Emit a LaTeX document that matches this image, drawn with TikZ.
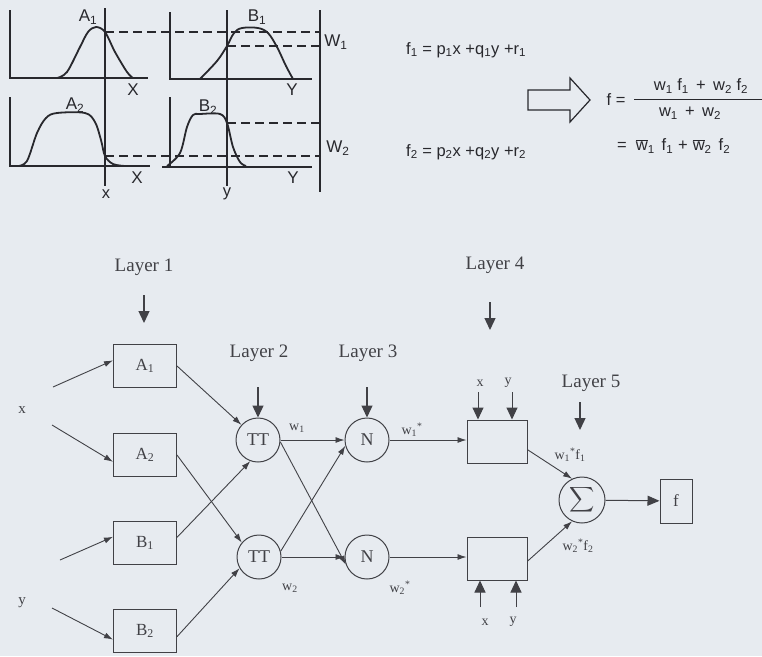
\documentclass[tikz,border=0pt]{standalone}
\usepackage{fontspec}
\usepackage{graphicx}
\setmainfont{Liberation Serif}
\newfontfamily\topfont{Liberation Sans}
\usetikzlibrary{arrows.meta}
\definecolor{bg}{RGB}{231,235,240}
\definecolor{ink}{RGB}{40,40,45}
\definecolor{net}{RGB}{65,65,70}
\tikzset{
 tlab/.style={font=\topfont\fontsize{17}{19}\selectfont, text=ink, inner sep=0},
 tform/.style={font=\topfont\fontsize{16.5}{18}\selectfont, text=ink, inner sep=0},
 curve/.style={line width=1.8pt, draw=ink, line join=round},
 axis/.style={line width=1.8pt, draw=ink},
 vline/.style={line width=1.1pt, draw=ink},
 dline/.style={line width=1.5pt, draw=ink, dash pattern=on 9pt off 5pt},
 nlab/.style={font=\fontsize{19}{21}\selectfont, text=net, inner sep=0},
 slab/.style={font=\fontsize{14}{16}\selectfont, text=net, inner sep=0},
 nbox/.style={draw=net, line width=1pt, minimum width=63pt, minimum height=43pt, inner sep=0, font=\fontsize{17}{19}\selectfont, text=net},
 ncirc/.style={draw=net, line width=1pt, circle, minimum size=44pt, inner sep=0, font=\fontsize{18}{20}\selectfont, text=net},
 arr/.style={draw=net, line width=0.9pt, -{Latex[length=9pt,width=6pt]}},
 larr/.style={draw=net, line width=1.3pt, -{Triangle[length=12pt,width=11pt]}},
}
\begin{document}
\begin{tikzpicture}[x=1pt,y=-1pt]
\fill[bg] (0,0) rectangle (762,656);
\useasboundingbox (0,0) rectangle (762,656);

% ---------- membership functions ----------
\draw[axis] (10,10) -- (10,78) -- (148,78);
\draw[curve] plot[smooth, tension=0.55] coordinates {(57,78) (67,72) (80,47) (88,32) (96,27) (105,32) (115,52) (127,72) (133,78)};
\draw[axis] (170,12) -- (170,79) -- (312,79);
\draw[curve] plot[smooth, tension=0.55] coordinates {(200,79) (217,61) (227,46) (234,33) (242,28) (258,28) (268,33) (277,47) (286,66) (293,79)};
\draw[axis] (10,97) -- (10,166) -- (150,166);
\draw[curve] plot[smooth, tension=0.55] coordinates {(18,166) (27,161) (37,133) (46,118) (57,113) (85,113) (95,122) (101,140) (105,156) (113,164) (125,166)};
\draw[axis] (170,97) -- (170,167);
\draw[axis] (162,167) -- (312,167);
\draw[curve] plot[smooth, tension=0.55] coordinates {(167,166) (180,153) (187,127) (193,115) (200,114) (220,114) (227,123) (233,147) (240,162) (246,166)};

\draw[vline] (105,8) -- (105,186);
\draw[vline] (227,10) -- (227,186);
\draw[vline] (320,10) -- (320,192);
\draw[dline] (105,32) -- (320,32);
\draw[dline] (227,46) -- (320,46);
\draw[dline] (227,123) -- (320,123);
\draw[dline] (105,156) -- (320,156);

\node[tlab] (tA1) at (88,17) {A\textsubscript{1}};
\node[tlab] (tB1) at (257,17) {B\textsubscript{1}};
\node[tlab] (tX1) at (133,90) {X};
\node[tlab] (tY1) at (292,90) {Y};
\node[tlab] (tA2) at (75,105) {A\textsubscript{2}};
\node[tlab] (tB2) at (208,107) {B\textsubscript{2}};
\node[tlab] (tX2) at (137,178) {X};
\node[tlab] (tY2) at (293,178) {Y};
\node[tform] (tx) at (106,194) {x};
\node[tform] (ty) at (227,194) {y};
\node[tlab] (tW1) at (336,42) {W\textsubscript{1}};
\node[tlab] (tW2) at (338,148) {W\textsubscript{2}};

\node[tform, anchor=west] (f1) at (406,50) {f\textsubscript{1} = p\textsubscript{1}x +q\textsubscript{1}y +r\textsubscript{1}};
\node[tform, anchor=west] (f2) at (406,152) {f\textsubscript{2} = p\textsubscript{2}x +q\textsubscript{2}y +r\textsubscript{2}};

\draw[line width=1.2pt, draw=ink, fill=bg] (528,90) -- (570,90) -- (570,78) -- (590,100) -- (570,122) -- (570,110) -- (528,110) -- cycle;

\node[tform] (feq) at (616,100) {f =};
\node[tform] (num) at (701,86) {w\textsubscript{1} f\textsubscript{1} \,+\, w\textsubscript{2} f\textsubscript{2}};
\node[tform] (den) at (690,113) {w\textsubscript{1} \,+\, w\textsubscript{2}};
\coordinate (barL) at (634,99);
\coordinate (barR) at (762,99);
\draw[line width=0.8pt, draw=ink] (barL) -- (barR);
\node[tform, anchor=west] (f3) at (617,146) {=\hspace{9pt}$\overline{\mbox{w}}$\textsubscript{1}\hspace{7pt}f\textsubscript{1}\hspace{5pt}+\hspace{5pt}$\overline{\mbox{w}}$\textsubscript{2}\hspace{7pt}f\textsubscript{2}};

% ---------- ANFIS network ----------
\node[nlab] (L1) at (144,267) {Layer 1};
\node[nlab] (L2) at (259,353) {Layer 2};
\node[nlab] (L3) at (368,353) {Layer 3};
\node[nlab] (L4) at (495,265) {Layer 4};
\node[nlab] (L5) at (591,383) {Layer 5};

\node[nbox] (A1) at (145,366) {A\textsubscript{1}};
\node[nbox] (A2) at (145,455) {A\textsubscript{2}};
\node[nbox] (B1) at (145,543) {B\textsubscript{1}};
\node[nbox] (B2) at (145,631) {B\textsubscript{2}};

\node[ncirc] (P1) at (258,440) {TT};
\node[ncirc] (P2) at (259,557) {TT};
\node[ncirc] (N1) at (367,440) {N};
\node[ncirc] (N2) at (367,557) {N};

\node[nbox, minimum width=60pt] (R1) at (497,441.5) {};
\node[nbox, minimum width=60pt] (R2) at (497,558.5) {};
\node[ncirc, minimum size=46pt] (S) at (582,500) {\scalebox{1.75}{$\displaystyle\sum$}};
\node[nbox, minimum width=32pt, minimum height=44pt] (O) at (676,501) {f};

\node[slab, font=\fontsize{15}{17}\selectfont] (inx) at (22,410) {x};
\node[slab, font=\fontsize{15}{17}\selectfont] (iny) at (22,603) {y};
\coordinate (xs1) at (53,387);
\coordinate (xs2) at (52,425);
\coordinate (ys1) at (60,560);
\coordinate (ys2) at (52,608);

\node[slab] (lw1) at (297,428) {w\textsubscript{1}};
\node[slab] (lw2) at (290,588) {w\textsubscript{2}};
\node[slab] (lw1n) at (412,430) {w\textsubscript{1}\textsuperscript{*}};
\node[slab] (lw2n) at (400,588) {w\textsubscript{2}\textsuperscript{*}};
\node[slab] (lwf1) at (570,455) {w\textsubscript{1}\textsuperscript{*}f\textsubscript{1}};
\node[slab] (lwf2) at (578,546) {w\textsubscript{2}\textsuperscript{*}f\textsubscript{2}};

\node[slab] (r1x) at (480,383) {x};
\node[slab] (r1y) at (508,383) {y};
\node[slab] (r2x) at (485,622) {x};
\node[slab] (r2y) at (513,622) {y};

% layer arrows
\coordinate (l1a) at (144,295); \coordinate (l1b) at (144,323);
\draw[larr] (l1a) -- (l1b);
\coordinate (l2a) at (258,387);
\draw[larr] (l2a) -- (P1.north);
\coordinate (l3a) at (367,387);
\draw[larr] (l3a) -- (N1.north);
\coordinate (l4a) at (490,302); \coordinate (l4b) at (490,330);
\draw[larr] (l4a) -- (l4b);
\coordinate (l5a) at (580,402); \coordinate (l5b) at (580,430);
\draw[larr] (l5a) -- (l5b);

\coordinate (bx1) at (478,392); \coordinate (by1) at (512,392);
\draw[larr, line width=1pt] (bx1) -- (bx1 |- R1.north);
\draw[larr, line width=1pt] (by1) -- (by1 |- R1.north);
\coordinate (bx2) at (480,607); \coordinate (by2) at (516,607);
\draw[larr, line width=1pt] (bx2) -- (bx2 |- R2.south);
\draw[larr, line width=1pt] (by2) -- (by2 |- R2.south);

% connections
\draw[arr] (xs1) -- (A1.170);
\draw[arr] (xs2) -- (A2.192);
\draw[arr] (ys1) -- (B1.169);
\draw[arr] (ys2) -- (B2.195);

\draw[arr] (A1.east) -- (P1);
\draw[arr] (A2.east) -- (P2.140);
\draw[arr] (B1.10) -- (P1.250);
\draw[arr] (B2.350) -- (P2.210);

\draw[arr] (P1.east) -- (N1.west);
\draw[arr] (P2.east) -- (N2.west);
\draw[arr] (P1.-5) -- (N2.200);
\draw[arr] (P2.15) -- (N1.195);

\draw[arr] (N1.east) -- (N1.east -| R1.west);
\draw[arr] (N2.east) -- (N2.east -| R2.west);
\draw[arr] (R1.345) -- (S.115);
\draw[arr] (R2.-5) -- (S.245);
\draw[draw=net, line width=1pt, -{Triangle[length=12pt,width=10pt]}] (S) -- (O);
\end{tikzpicture}
\end{document}
